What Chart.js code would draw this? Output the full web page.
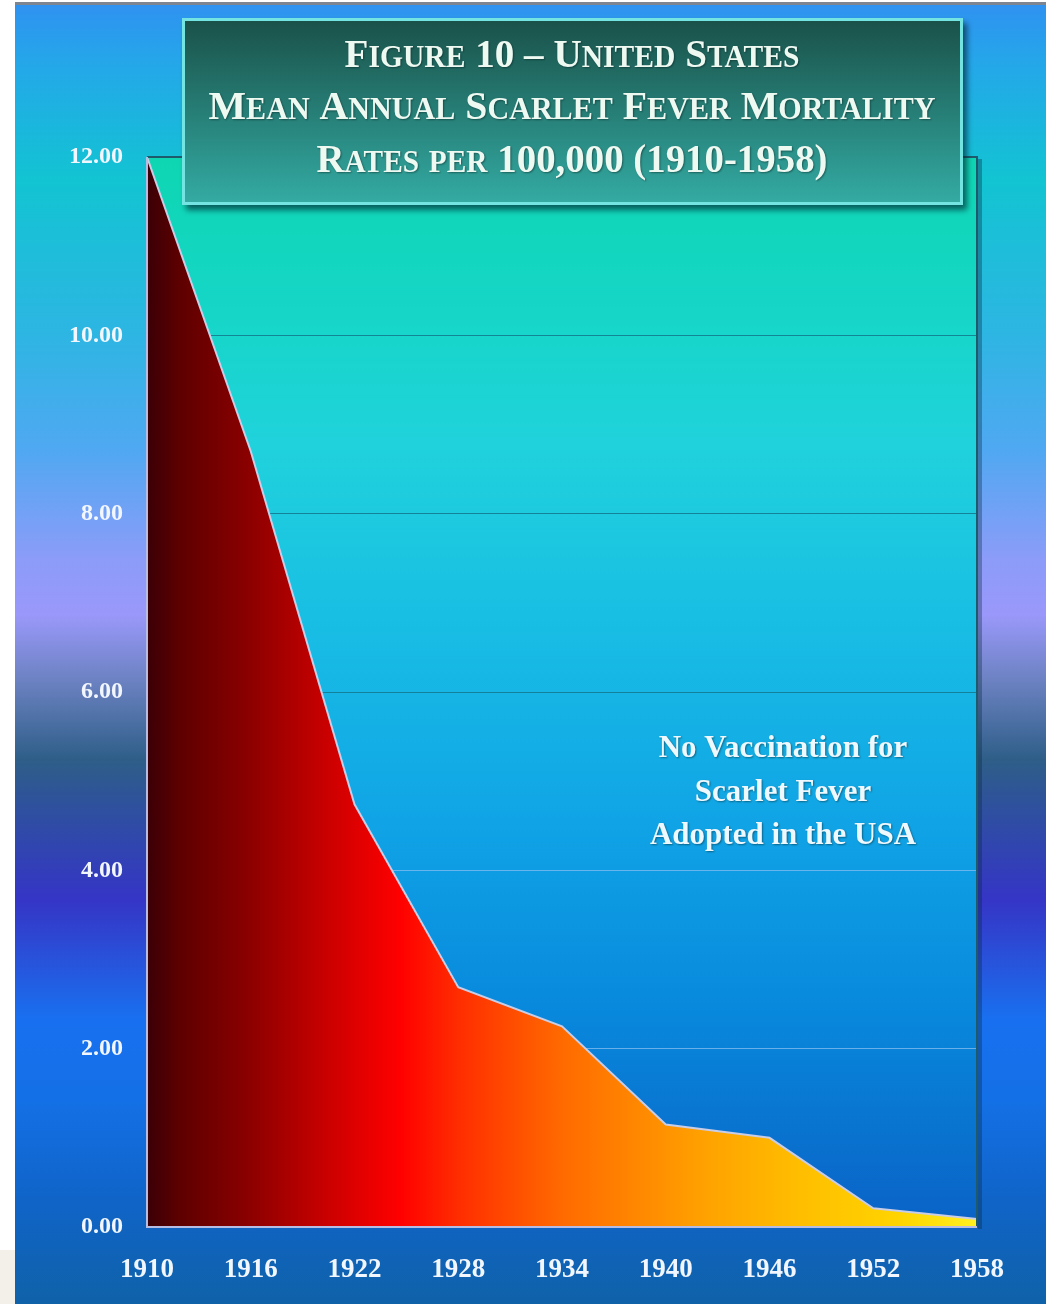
<!DOCTYPE html>
<html>
<head>
<meta charset="utf-8">
<title>Scarlet Fever Mortality, United States 1910-1958</title>
<script src="https://cdn.jsdelivr.net/npm/chart.js@4.4.1/dist/chart.umd.min.js"></script>
<style>
  html, body { margin: 0; padding: 0; background: #ffffff; }
  #wrap { width: 1046px; height: 1304px; position: relative; }
  canvas { display: block; }
</style>
</head>
<body>
<div id="wrap"><canvas id="chart" width="1046" height="1304"></canvas></div>
<script>
// Mean annual scarlet fever mortality per 100,000, sampled every six years
const years = ['1910', '1916', '1922', '1928', '1934', '1940', '1946', '1952', '1958'];
const rates = [12.0, 8.7, 4.74, 2.69, 2.25, 1.15, 1.0, 0.21, 0.09];
const yTicks = [0, 2, 4, 6, 8, 10, 12];

const titleLines = [
  'Figure 10 \u2013 United States',
  'Mean Annual Scarlet Fever Mortality',
  'Rates per 100,000 (1910-1958)'
];
const noteLines = ['No Vaccination for', 'Scarlet Fever', 'Adopted in the USA'];

const SERIF = '"Liberation Serif", "Times New Roman", serif';

// Whole slide background, plot area wash
const backdrop = {
  id: 'backdrop',
  beforeDraw(chart) {
    const ctx = chart.ctx;
    const W = chart.width, H = chart.height;
    ctx.save();
    ctx.fillStyle = '#ffffff';
    ctx.fillRect(0, 0, W, H);
    ctx.fillStyle = '#f3f0e9';
    ctx.fillRect(0, 1250, 15, H - 1250);
    ctx.fillStyle = '#7d8590';
    ctx.fillRect(15, 2, W - 15, 3);

    const g = ctx.createLinearGradient(0, 5, 0, H);
    const stops = [
      [0, '#2f92f0'], [60, '#25a6ea'], [180, '#12c4d2'], [330, '#2cb6e2'],
      [450, '#50a8f2'], [560, '#8c9cf8'], [615, '#9a98fa'], [680, '#6c82c2'],
      [760, '#2e5e88'], [830, '#2f4aa8'], [900, '#3535c6'], [960, '#2852da'],
      [1020, '#1870f0'], [1100, '#1470e6'], [1200, '#1064c8'], [1304, '#0f62a8']
    ];
    stops.forEach(([y, c]) => g.addColorStop(Math.min(1, Math.max(0, (y - 5) / (H - 5))), c));
    ctx.fillStyle = g;
    ctx.fillRect(15, 5, W - 15, H - 5);

    const a = chart.chartArea;
    const pg = ctx.createLinearGradient(0, a.top, 0, a.bottom);
    pg.addColorStop(0.00, '#0ed6b2');
    pg.addColorStop(0.15, '#16d6c8');
    pg.addColorStop(0.27, '#20d2dc');
    pg.addColorStop(0.45, '#18bce4');
    pg.addColorStop(0.62, '#10a4e6');
    pg.addColorStop(0.80, '#0888dc');
    pg.addColorStop(1.00, '#0a62c6');
    ctx.fillStyle = pg;
    ctx.fillRect(a.left, a.top, a.right - a.left, a.bottom - a.top);
    ctx.restore();
  }
};

// Frame of the plot area: light axes on the left and bottom, dark edges top and right
const frame = {
  id: 'frame',
  afterDatasetsDraw(chart) {
    const ctx = chart.ctx;
    const a = chart.chartArea;
    ctx.save();
    ctx.fillStyle = 'rgba(10,40,60,0.35)';
    ctx.fillRect(a.right + 1, a.top + 2, 4, a.bottom - a.top);
    ctx.strokeStyle = '#1e5a6c';
    ctx.lineWidth = 2;
    ctx.beginPath();
    ctx.moveTo(a.left, a.top);
    ctx.lineTo(a.right, a.top);
    ctx.lineTo(a.right, a.bottom);
    ctx.stroke();
    ctx.strokeStyle = '#b6bce2';
    ctx.beginPath();
    ctx.moveTo(a.left, a.top);
    ctx.lineTo(a.left, a.bottom);
    ctx.lineTo(a.right, a.bottom);
    ctx.stroke();
    ctx.restore();
  }
};

// Draws a line in small capitals, squeezed or stretched to a set width
function smallCapsLine(ctx, text, cx, baseline, bigSize, smallSize, targetWidth) {
  const runs = [];
  for (const ch of text) {
    const lower = ch !== ch.toUpperCase();
    const size = lower ? smallSize : bigSize;
    const last = runs[runs.length - 1];
    if (last && last.size === size) last.text += lower ? ch.toUpperCase() : ch;
    else runs.push({ text: lower ? ch.toUpperCase() : ch, size });
  }
  let total = 0;
  runs.forEach(r => {
    ctx.font = 'bold ' + r.size + 'px ' + SERIF;
    r.w = ctx.measureText(r.text).width;
    total += r.w;
  });
  const sx = targetWidth / total;
  ctx.save();
  ctx.translate(cx - targetWidth / 2, baseline);
  ctx.scale(sx, 1);
  let x = 0;
  runs.forEach(r => {
    ctx.font = 'bold ' + r.size + 'px ' + SERIF;
    ctx.fillText(r.text, x, 0);
    x += r.w;
  });
  ctx.restore();
}

// Title panel and the note inside the plot
const overlay = {
  id: 'overlay',
  afterDraw(chart) {
    const ctx = chart.ctx;
    ctx.save();
    const bx = 182, by = 18, bw = 781, bh = 187;
    ctx.shadowColor = 'rgba(0,30,45,0.65)';
    ctx.shadowOffsetX = 4;
    ctx.shadowOffsetY = 5;
    ctx.shadowBlur = 6;
    const tg = ctx.createLinearGradient(0, by, 0, by + bh);
    tg.addColorStop(0, '#1a5048');
    tg.addColorStop(0.5, '#267e76');
    tg.addColorStop(1, '#34aca4');
    ctx.fillStyle = tg;
    ctx.fillRect(bx, by, bw, bh);
    ctx.shadowColor = 'transparent';
    ctx.strokeStyle = '#74e4e2';
    ctx.lineWidth = 3;
    ctx.strokeRect(bx + 1.5, by + 1.5, bw - 3, bh - 3);

    ctx.fillStyle = '#eef9f2';
    ctx.textBaseline = 'alphabetic';
    ctx.textAlign = 'left';
    ctx.shadowColor = 'rgba(0,20,20,0.45)';
    ctx.shadowBlur = 2;
    ctx.shadowOffsetX = 1;
    ctx.shadowOffsetY = 1;
    const baselines = [67, 119, 172];
    const widths = [455, 727, 511];
    titleLines.forEach((t, i) => smallCapsLine(ctx, t, 572, baselines[i], 41, 31, widths[i]));

    ctx.font = 'bold 31px ' + SERIF;
    ctx.textAlign = 'center';
    ctx.fillStyle = '#eef8ff';
    const nb = [757, 801, 844];
    noteLines.forEach((t, i) => ctx.fillText(t, 783, nb[i]));
    ctx.restore();
  }
};

const tickFontColor = '#f2f7ff';

new Chart(document.getElementById('chart'), {
  type: 'line',
  data: {
    labels: years,
    datasets: [{
      data: rates,
      fill: 'origin',
      borderColor: '#c9cde6',
      borderWidth: 2,
      pointRadius: 0,
      tension: 0,
      backgroundColor(context) {
        const ca = context.chart.chartArea;
        if (!ca) return 'rgba(0,0,0,0)';
        const g = context.chart.ctx.createLinearGradient(ca.left, 0, ca.right, 0);
        g.addColorStop(0.00, '#3a0006');
        g.addColorStop(0.04, '#5e0000');
        g.addColorStop(0.124, '#8c0000');
        g.addColorStop(0.22, '#cc0000');
        g.addColorStop(0.305, '#ff0000');
        g.addColorStop(0.377, '#ff2e00');
        g.addColorStop(0.50, '#ff6a00');
        g.addColorStop(0.666, '#ffa000');
        g.addColorStop(0.787, '#ffbe00');
        g.addColorStop(0.907, '#ffd400');
        g.addColorStop(1.00, '#fff020');
        return g;
      }
    }]
  },
  options: {
    responsive: false,
    animation: false,
    devicePixelRatio: 1,
    layout: { padding: { left: 15, right: 69, top: 157, bottom: 0 } },
    plugins: {
      legend: { display: false },
      tooltip: { enabled: false },
      title: { display: false }
    },
    scales: {
      x: {
        type: 'category',
        grid: { display: false, drawTicks: false },
        border: { display: false },
        ticks: {
          color: tickFontColor,
          font: { family: SERIF, size: 27, weight: 'bold' },
          padding: 27,
          maxRotation: 0,
          autoSkip: false
        },
        afterFit(scale) { scale.height = 77; }
      },
      y: {
        min: 0,
        max: 12,
        afterBuildTicks(scale) { scale.ticks = yTicks.map(v => ({ value: v })); },
        grid: {
          // darker lines over the teal upper half, lighter over the deep blue lower half
          color: c => (c.tick && c.tick.value >= 6) ? 'rgba(18,120,140,0.85)' : 'rgba(120,185,240,0.85)',
          lineWidth: 1,
          drawTicks: false
        },
        border: { display: false },
        ticks: {
          color: tickFontColor,
          font: { family: SERIF, size: 24, weight: 'bold' },
          padding: 24,
          callback: v => Number(v).toFixed(2)
        },
        afterFit(scale) { scale.width = 132; }
      }
    }
  },
  plugins: [backdrop, frame, overlay]
});
</script>
</body>
</html>
